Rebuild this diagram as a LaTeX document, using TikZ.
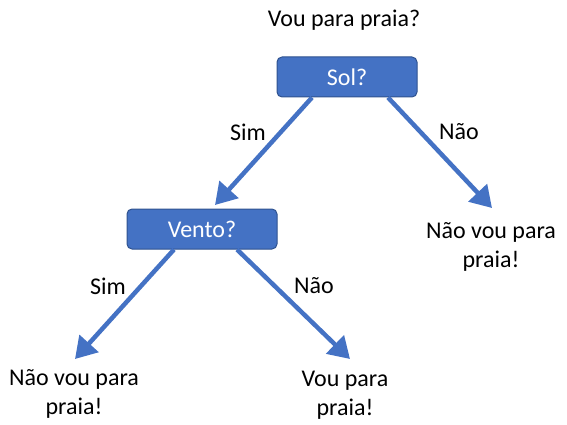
\documentclass[tikz,border=0pt]{standalone}
\usepackage{fontspec}
\setmainfont{Carlito}
\usetikzlibrary{arrows.meta}
\definecolor{boxblue}{HTML}{4472C4}
\definecolor{boxedge}{HTML}{2F528F}
\tikzstyle{question} = [draw=boxedge, line width=1pt, fill=boxblue, text=white, rounded corners=5pt, minimum width=140pt, minimum height=40pt, inner sep=0pt]
\tikzstyle{answer} = [align=center, inner sep=0pt]
\tikzstyle{arrow} = [draw=boxblue, line width=4.5pt, -{Triangle[length=21pt, width=25pt]}]

\begin{document}
\begin{tikzpicture}[x=1pt, y=-1pt, font=\fontsize{24}{29}\selectfont]
\useasboundingbox (0,0) rectangle (567,425);

\node[answer] at (344,20) (title) {Vou para praia?};

\node[question] at (347,77) (sol) {Sol?};
\node[question, minimum width=150pt] at (202,229) (vento) {Vento?};

\node[answer] at (491,247) (nao1) {Não vou para\\praia!};
\node[answer] at (74,394) (nao2) {Não vou para\\praia!};
\node[answer] at (345,395) (vou) {Vou para\\praia!};

\node at (248,132) (sim1) {Sim};
\node at (459,132) (naolbl1) {Não};
\node at (108,286) (sim2) {Sim};
\node at (314,286) (naolbl2) {Não};

% arrow tips
\coordinate (tipvento) at (215,205);
\coordinate (tipnao1) at (492,208);
\coordinate (tipnao2) at (75,359);
\coordinate (tipvou) at (350,359);

\path[arrow] ([xshift=-35pt]sol.south) to (tipvento);
\path[arrow] ([xshift=41pt]sol.south) to (tipnao1);
\path[arrow] ([xshift=-28pt]vento.south) to (tipnao2);
\path[arrow] ([xshift=35pt]vento.south) to (tipvou);
\end{tikzpicture}
\end{document}
